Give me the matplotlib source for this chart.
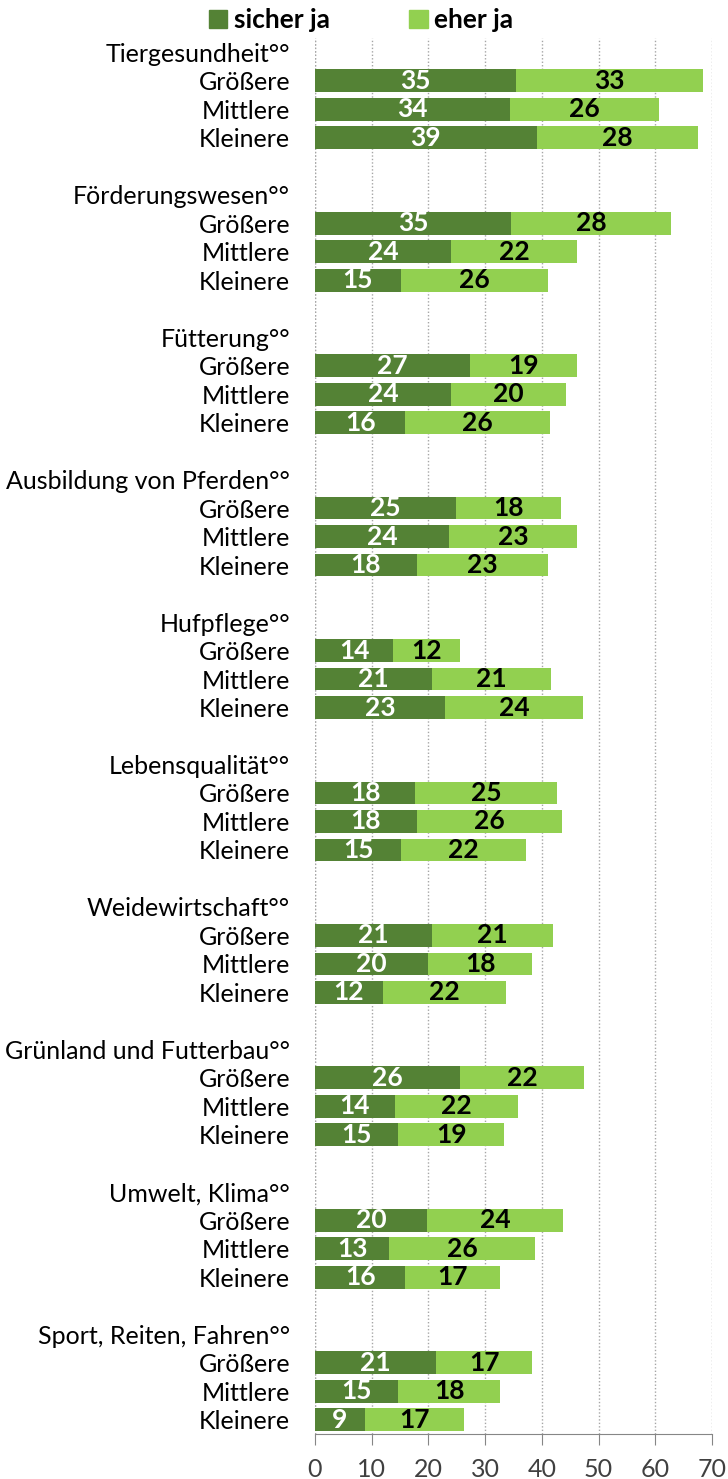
import numpy as np
import matplotlib
matplotlib.use("Agg")
import matplotlib.pyplot as plt
from matplotlib.patches import Patch

plt.rcParams['font.family'] = ['Lato', 'DejaVu Sans']

# topics (group headers) and farm sizes
topics = ["Tiergesundheit°°", "Förderungswesen°°", "Fütterung°°",
          "Ausbildung von Pferden°°", "Hufpflege°°", "Lebensqualität°°",
          "Weidewirtschaft°°", "Grünland und Futterbau°°", "Umwelt, Klima°°",
          "Sport, Reiten, Fahren°°"]
sizes = ["Größere", "Mittlere", "Kleinere"]

# percentages, one row per topic (Größere, Mittlere, Kleinere)
sicher_ja = [
    [35.4, 34.3, 39.1],
    [34.6, 24.0, 15.1],
    [27.4, 24.0, 15.9],
    [24.9, 23.6, 17.9],
    [13.8, 20.6, 22.9],
    [17.7, 17.9, 15.2],
    [20.6, 19.9, 12.0],
    [25.6, 14.1, 14.7],
    [19.8, 13.1, 15.9],
    [21.3, 14.7, 8.8],
]
eher_ja = [
    [33.0, 26.3, 28.4],
    [28.1, 22.2, 25.9],
    [18.8, 20.2, 25.6],
    [18.4, 22.6, 23.1],
    [11.8, 21.1, 24.4],
    [24.9, 25.6, 22.0],
    [21.3, 18.4, 21.7],
    [21.8, 21.7, 18.6],
    [24.0, 25.7, 16.7],
    [17.0, 17.9, 17.4],
]

dark = "#548235"
light = "#92d050"

fig = plt.figure(figsize=(7.28, 14.79), dpi=100)
ax = fig.add_axes([315 / 728, 1 - 1434 / 1479, 397 / 728, (1434 - 38) / 1479])

# build row positions: header, 3 bars, blank
ylabels = []
bar_pos, bar_s, bar_e = [], [], []
row = 0
for g, topic in enumerate(topics):
    ylabels.append(topic)
    row += 1
    for k, s in enumerate(sizes):
        ylabels.append(s)
        bar_pos.append(row)
        bar_s.append(sicher_ja[g][k])
        bar_e.append(eher_ja[g][k])
        row += 1
    if g < len(topics) - 1:
        ylabels.append("")
        row += 1

bar_pos = np.array(bar_pos)
bar_s = np.array(bar_s)
bar_e = np.array(bar_e)

h = 0.8
ax.barh(bar_pos, bar_s, height=h, color=dark, zorder=2)
ax.barh(bar_pos, bar_e, left=bar_s, height=h, color=light, zorder=2)

for y, s, e in zip(bar_pos, bar_s, bar_e):
    ax.text(s / 2, y, f"{s:.0f}", ha="center", va="center", color="white",
            fontsize=19, fontweight="bold", zorder=3)
    ax.text(s + e / 2, y, f"{e:.0f}", ha="center", va="center", color="black",
            fontsize=19, fontweight="bold", zorder=3)

ax.set_yticks(np.arange(len(ylabels)))
ax.set_yticklabels(ylabels, fontsize=18)
ax.tick_params(axis="y", length=0, pad=18)
ax.set_ylim(len(ylabels) - 0.5, -0.5)

ax.set_xlim(0, 70)
ax.set_xticks(np.arange(0, 71, 10))
ax.tick_params(axis="x", length=8, color="#868686", labelsize=18, pad=9,
               labelcolor="#404040")
ax.grid(axis="x", color="#a6a6a6", linestyle=(0, (1, 1.5)), linewidth=1, zorder=0)
for side in ["top", "right", "left"]:
    ax.spines[side].set_visible(False)
ax.spines["bottom"].set_color("#868686")
ax.axvline(0, color="#a6a6a6", linestyle=(0, (1, 1.5)), linewidth=1, zorder=0)

handles = [Patch(color=dark, label="sicher ja"), Patch(color=light, label="eher ja")]
leg = fig.legend(handles=handles, loc="center", bbox_to_anchor=(0.496, 1 - 20 / 1479),
                 ncol=2, frameon=False, handlelength=0.7, handleheight=0.7,
                 handletextpad=0.25, columnspacing=3.0,
                 prop={"size": 19, "weight": "bold"})

fig.savefig("out.png", dpi=100)
